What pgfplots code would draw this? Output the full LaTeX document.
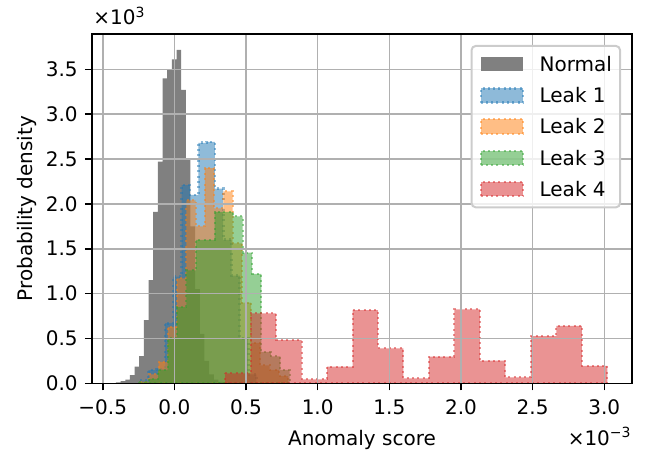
\documentclass[border=0pt]{standalone}
\usepackage{fontspec}
\setmainfont{DejaVu Sans}
\usepackage{pgfplots}
\pgfplotsset{compat=1.18}
\definecolor{tabblue}{HTML}{1F77B4}
\definecolor{taborange}{HTML}{FF7F0E}
\definecolor{tabgreen}{HTML}{2CA02C}
\definecolor{tabred}{HTML}{D62728}
\definecolor{gridgray}{HTML}{B0B0B0}
\definecolor{legendgray}{HTML}{CCCCCC}
\begin{document}
\fontsize{10}{12}\selectfont
\begin{tikzpicture}
\begin{axis}[
  at={(0,0)}, anchor=south west,
  scale only axis, width=270pt, height=174.65pt,
  xmin=-0.5747, xmax=3.1933, ymin=0, ymax=3.894,
  axis on top,
  grid=major, grid style={line width=0.8pt, draw=gridgray},
  axis line style={line width=0.8pt},
  tick align=outside, major tick length=3.5pt,
  tick style={line width=0.8pt, black},
  xtick pos=left, ytick pos=left,
  xtick={-0.5,0,0.5,1,1.5,2,2.5,3},
  xticklabels={−0.5,0.0,0.5,1.0,1.5,2.0,2.5,3.0},
  ytick={0,0.5,1,1.5,2,2.5,3,3.5},
  yticklabels={0.0,0.5,1.0,1.5,2.0,2.5,3.0,3.5},
  xticklabel style={inner sep=0pt, anchor=base, yshift=-12.1pt},
  yticklabel style={inner sep=0pt, anchor=east, xshift=-3.5pt},
  xlabel={Anomaly score}, ylabel={Probability density},
  every axis x label/.style={at={(axis description cs:0.5,-0.17664)}, anchor=base, inner sep=0pt},
  every axis y label/.style={at={(axis description cs:-0.11019,0.5)}, rotate=90, anchor=base, inner sep=0pt},
  legend image code/.code={\draw[#1, sharp corners] (0pt,-3.6pt) rectangle (21pt,3.6pt);},
  legend cell align=left,
  legend style={at={(axis description cs:0.97963,0.9685)}, anchor=north east,
    draw=legendgray, line width=1pt, rounded corners=2pt, fill=white, fill opacity=0.8, text opacity=1,
    inner xsep=4pt, inner ysep=1.2pt, row sep=0pt, column sep=7.6pt,
    nodes={inner sep=0pt, minimum height=15.65pt, text height=7.3pt, text depth=0pt, anchor=west}},
  leak/.style={const plot, fill=#1, fill opacity=0.5, draw=#1, draw opacity=0.5,
    line width=1pt, dash pattern=on 1pt off 1.65pt},
]
\addplot[const plot, fill=gray, fill opacity=1, draw=none,
  legend image code/.code={\fill[gray, sharp corners] (0pt,-3.6pt) rectangle (21pt,3.6pt);}] coordinates {
(-0.4075,0.01) (-0.375,0.025) (-0.3425,0.04) (-0.31,0.092) (-0.2775,0.185) (-0.245,0.304)
(-0.2125,0.705) (-0.18,1.15) (-0.1475,1.91) (-0.115,2.47) (-0.0825,3.40) (-0.05,3.49)
(-0.0175,3.61) (0.015,3.716) (0.0475,3.27) (0.08,2.49) (0.1125,1.75) (0.145,1.05)
(0.1775,0.55) (0.21,0.25) (0.2425,0.1) (0.275,0.04) (0.3075,0.015) (0.34,0.015)
} \closedcycle;
\addlegendentry{Normal}
\addplot[leak=tabblue, line width=1.4pt] coordinates {
(-0.239,0.03) (-0.181,0.148) (-0.123,0.16) (-0.065,0.67) (-0.007,1.19) (0.051,2.21)
(0.109,2.10) (0.167,2.68) (0.225,2.69) (0.283,2.17) (0.341,1.6) (0.399,1.2)
(0.457,0.5) (0.515,0.1) (0.573,0.1)
} \closedcycle;
\addlegendentry{Leak 1}
\addplot[leak=taborange] coordinates {
(-0.239,0.02) (-0.1745,0.1) (-0.11,0.24) (-0.0455,0.63) (0.019,1.17) (0.0835,2.04)
(0.148,1.75) (0.2125,2.40) (0.277,1.95) (0.3415,2.14) (0.406,1.56) (0.4705,0.9)
(0.535,0.45) (0.5995,0.2) (0.664,0.15) (0.7285,0.08) (0.793,0.08)
} \closedcycle;
\addlegendentry{Leak 2}
\addplot[leak=tabgreen] coordinates {
(-0.2435,0.01) (-0.178,0.05) (-0.1125,0.15) (-0.047,0.5) (0.0185,0.85) (0.084,1.26)
(0.1495,1.60) (0.215,1.60) (0.2805,1.91) (0.346,1.91) (0.4115,1.86) (0.477,1.456)
(0.5425,1.22) (0.608,0.35) (0.6735,0.3) (0.739,0.15) (0.8045,0.15)
} \closedcycle;
\addlegendentry{Leak 3}
\addplot[leak=tabred] coordinates {
(0.354,0.11) (0.5318,0.78) (0.7096,0.48) (0.8874,0.045) (1.0652,0.185) (1.243,0.817)
(1.4208,0.39) (1.5986,0.056) (1.7764,0.297) (1.9542,0.825) (2.132,0.252) (2.3098,0.067)
(2.4876,0.527) (2.6654,0.639) (2.8432,0.193) (3.021,0.193)
} \closedcycle;
\addlegendentry{Leak 4}
\end{axis}
\node[anchor=base west, inner sep=0pt] at (0.5pt,179.15pt) {×10\textsuperscript{3}};
\node[anchor=base east, inner sep=0pt] at (270pt,-30.85pt) {×10\textsuperscript{−3}};
\pgfresetboundingbox
\path[use as bounding box] (-46pt,-33.85pt) rectangle (278pt,191.65pt);
\end{tikzpicture}
\end{document}
